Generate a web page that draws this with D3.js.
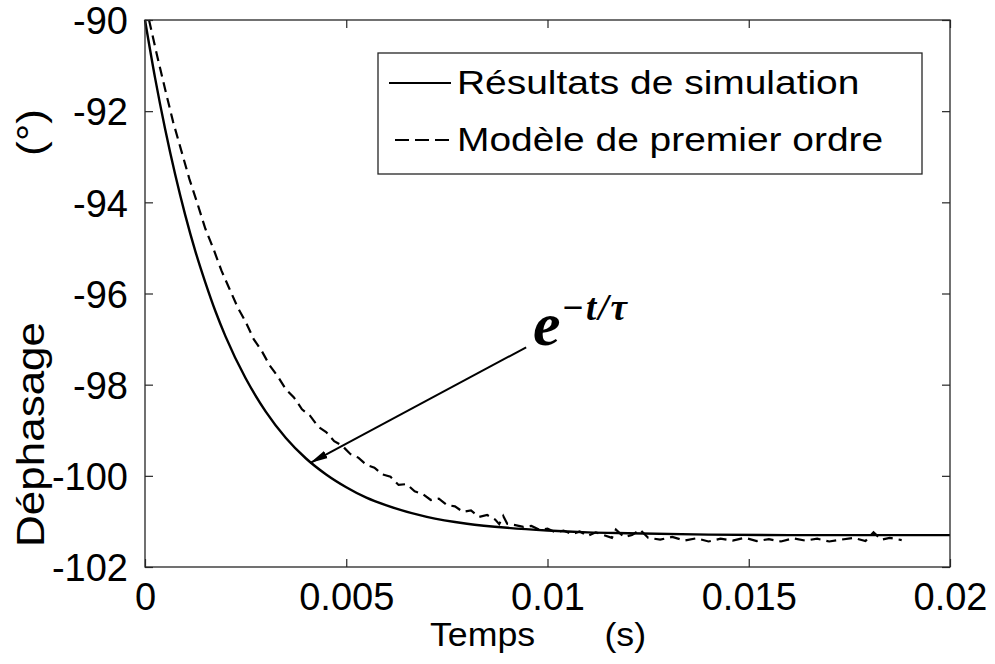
<!DOCTYPE html>
<html>
<head>
<meta charset="utf-8">
<script src="https://cdn.jsdelivr.net/npm/d3@7/dist/d3.min.js"></script>
<style>
  html, body { margin: 0; padding: 0; background: #fff; }
  svg { display: block; }
  text { fill: #000; }
</style>
</head>
<body>
<svg id="chart" width="995" height="664"></svg>
<script>
// ---- Data ----
const xTicks = [0, 0.005, 0.01, 0.015, 0.02];
const xTickLabels = ["0", "0.005", "0.01", "0.015", "0.02"];
const yTicks = [-90, -92, -94, -96, -98, -100, -102];
const yTickLabels = ["-90", "-92", "-94", "-96", "-98", "-100", "-102"];

const seriesNames = ["Résultats de simulation", "Modèle de premier ordre"];
const xLabelParts = ["Temps", "(s)"];
const yLabelParts = ["Déphasage", "(°)"];

// Solid curve: "Résultats de simulation"
const simT = [0, 0.00025, 0.0005, 0.00075, 0.001, 0.00125, 0.0015, 0.00175, 0.002, 0.0025,
  0.003, 0.0035, 0.004, 0.0045, 0.005, 0.0055, 0.006, 0.007, 0.008, 0.009,
  0.010, 0.011, 0.012, 0.014, 0.016, 0.018, 0.020];
const simV = [-90, -91.27, -92.39, -93.39, -94.28, -95.07, -95.76, -96.39, -96.94, -97.86,
  -98.59, -99.17, -99.62, -99.97, -100.25, -100.48, -100.65, -100.90, -101.05, -101.14,
  -101.20, -101.24, -101.26, -101.29, -101.30, -101.30, -101.30];

// Dashed curve: "Modèle de premier ordre"
const modT = [0.0001, 0.0003, 0.0005, 0.0007, 0.0009, 0.0011, 0.0013, 0.0015, 0.0017, 0.0019,
  0.0021, 0.0023, 0.0025, 0.0027, 0.0029, 0.0031, 0.0033, 0.0035, 0.0037, 0.0039,
  0.0041, 0.0043, 0.0045, 0.0047, 0.0049, 0.0051, 0.0053, 0.0055, 0.0057, 0.0059,
  0.0061, 0.0063, 0.0065, 0.0067, 0.0069, 0.0071, 0.0073, 0.0075, 0.0077, 0.0079,
  0.0081, 0.0083, 0.0085, 0.0087, 0.0088, 0.0089, 0.0090, 0.0092, 0.0094, 0.0096,
  0.0098, 0.0100, 0.0102, 0.0104, 0.0106, 0.0108, 0.0110, 0.0112, 0.0114, 0.0116,
  0.0117, 0.0119, 0.0121, 0.0123, 0.0125, 0.0128, 0.0131, 0.0134, 0.0137, 0.0140,
  0.0143, 0.0146, 0.0149, 0.0152, 0.0155, 0.0158, 0.0161, 0.0164, 0.0167, 0.0170,
  0.0173, 0.0176, 0.0179, 0.0181, 0.0183, 0.0185, 0.0188];
const modV = [-90.00, -90.78, -91.52, -92.24, -92.86, -93.48, -94.02, -94.58, -95.02, -95.50,
  -95.90, -96.30, -96.62, -97.00, -97.26, -97.58, -97.82, -98.10, -98.28, -98.54,
  -98.68, -98.92, -99.04, -99.24, -99.34, -99.52, -99.60, -99.76, -99.82, -99.97,
  -100.02, -100.20, -100.18, -100.34, -100.40, -100.53, -100.50, -100.64, -100.67, -100.79,
  -100.76, -100.90, -100.86, -100.96, -101.06, -100.88, -101.05, -101.08, -101.12, -101.10,
  -101.18, -101.16, -101.24, -101.20, -101.28, -101.22, -101.32, -101.24, -101.30, -101.36,
  -101.18, -101.34, -101.30, -101.18, -101.36, -101.40, -101.34, -101.42, -101.37, -101.44,
  -101.38, -101.42, -101.36, -101.43, -101.39, -101.44, -101.37, -101.42, -101.38, -101.44,
  -101.40, -101.36, -101.43, -101.24, -101.40, -101.36, -101.41];

// ---- Layout ----
const svg = d3.select("#chart");
const L = 145, R = 950, T = 20, B = 567;
const SANS = "'Liberation Sans', Arial, Helvetica, sans-serif";
const SERIF = "'Liberation Serif', 'Times New Roman', Times, serif";
const TICK_FS = 38;

const x = d3.scaleLinear().domain([0, 0.02]).range([L, R]);
const y = d3.scaleLinear().domain([-102, -90]).range([B, T]);

// Curves
const simData = simT.map((t, i) => [t, simV[i]]);
const modData = modT.map((t, i) => [t, modV[i]]);

svg.append("path").datum(simData)
  .attr("d", d3.line().x(d => x(d[0])).y(d => y(d[1])).curve(d3.curveMonotoneX))
  .attr("fill", "none").attr("stroke", "#000").attr("stroke-width", 2.4);
svg.append("path").datum(modData)
  .attr("d", d3.line().x(d => x(d[0])).y(d => y(d[1])))
  .attr("fill", "none").attr("stroke", "#000").attr("stroke-width", 2.2)
  .attr("stroke-dasharray", "10,6");

// Axes (ticks inward on all four sides)
const axCol = "#262626";
function styleAxis(g) {
  g.select(".domain").remove();
  g.selectAll(".tick line").attr("stroke", axCol).attr("stroke-width", 1.2);
}
svg.append("g").attr("transform", `translate(0,${B})`)
  .call(d3.axisBottom(x).tickValues(xTicks).tickSizeInner(-8).tickSizeOuter(0)
    .tickFormat((d, i) => xTickLabels[i]).tickPadding(0))
  .call(styleAxis)
  .call(g => g.selectAll(".tick text")
    .attr("y", 43).attr("dy", 0)
    .style("font-family", SANS).style("font-size", TICK_FS + "px"));
svg.append("g").attr("transform", `translate(0,${T})`)
  .call(d3.axisTop(x).tickValues(xTicks).tickSizeInner(-8).tickSizeOuter(0).tickFormat(""))
  .call(styleAxis);

svg.append("g").attr("transform", `translate(${L},0)`)
  .call(d3.axisLeft(y).tickValues(yTicks).tickSizeInner(-8).tickSizeOuter(0)
    .tickFormat((d, i) => yTickLabels[i]).tickPadding(0))
  .call(styleAxis)
  .call(g => g.selectAll(".tick text")
    .attr("x", -17).attr("dy", "0.36em")
    .style("font-family", SANS).style("font-size", TICK_FS + "px"));
svg.append("g").attr("transform", `translate(${R},0)`)
  .call(d3.axisRight(y).tickValues(yTicks).tickSizeInner(-8).tickSizeOuter(0).tickFormat(""))
  .call(styleAxis);

// Frame
svg.append("rect").attr("x", L).attr("y", T).attr("width", R - L).attr("height", B - T)
  .attr("fill", "none").attr("stroke", axCol).attr("stroke-width", 1.3);

// Axis labels
const xl = svg.append("g").attr("transform", `translate(430,646) scale(1.05,1)`)
  .append("text").style("font-family", SANS).style("font-size", "34px");
xl.append("tspan").text(xLabelParts[0]);
xl.append("tspan").attr("dx", 66).text(xLabelParts[1]);

const yl = svg.append("g").attr("transform", `translate(44,547) rotate(-90) scale(1,0.88)`)
  .append("text").style("font-family", SANS).style("font-size", "44px");
yl.append("tspan").text(yLabelParts[0]);
yl.append("tspan").attr("dx", 166).text(yLabelParts[1]);

// Legend
const leg = svg.append("g");
leg.append("rect").attr("x", 378).attr("y", 53).attr("width", 544).attr("height", 121)
  .attr("fill", "#fff").attr("stroke", axCol).attr("stroke-width", 1.3);
const legRows = [
  { y: 83, x1: 389, x2: 451, dash: null },
  { y: 140, x1: 395, x2: 449, dash: "14,6" }
];
legRows.forEach((r, i) => {
  leg.append("line").attr("x1", r.x1).attr("x2", r.x2).attr("y1", r.y).attr("y2", r.y)
    .attr("stroke", "#000").attr("stroke-width", 2).attr("stroke-dasharray", r.dash);
  leg.append("g").attr("transform", `translate(457,${r.y + 11}) scale(1.18,1)`)
    .append("text").style("font-family", SANS).style("font-size", "33px")
    .text(seriesNames[i]);
});

// Annotation arrow e^{-t/tau}
svg.append("defs").append("marker").attr("id", "ah")
  .attr("viewBox", "0 0 18 10").attr("refX", 18).attr("refY", 5)
  .attr("markerWidth", 18).attr("markerHeight", 10).attr("orient", "auto")
  .attr("markerUnits", "userSpaceOnUse")
  .append("path").attr("d", "M0,1 L18,5 L0,9 Z").attr("fill", "#000");
const tipT = 0.0041, tipV = -99.72;
svg.append("line")
  .attr("x1", x(0.00947)).attr("y1", y(-97.18))
  .attr("x2", x(tipT)).attr("y2", y(tipV))
  .attr("stroke", "#000").attr("stroke-width", 2)
  .attr("marker-end", "url(#ah)");
const ann = svg.append("text").attr("x", 533).attr("y", 345)
  .style("font-family", SERIF).style("font-weight", "bold").style("font-style", "italic")
  .style("font-size", "62px");
ann.append("tspan").text("e");
ann.append("tspan").attr("dy", -25).attr("dx", 1).style("font-size", "37px")
  .style("letter-spacing", "2px").text("−t/τ");
</script>
</body>
</html>
